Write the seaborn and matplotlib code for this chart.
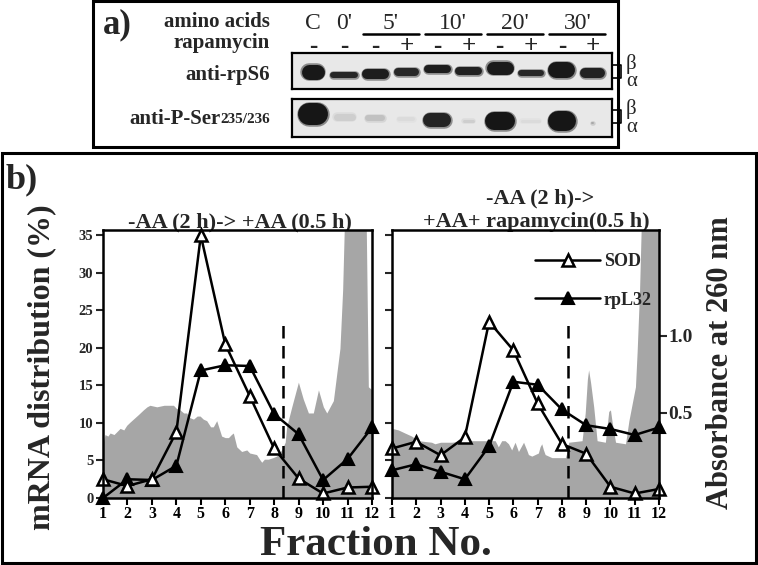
import matplotlib
matplotlib.use("Agg")
import matplotlib.pyplot as plt
import seaborn as sns
from matplotlib.patches import Rectangle

# --- panel a: western blot, 10 lanes ---
time_labels = ["C", "0'", "5'", "10'", "20'", "30'"]
time_lanes = [0, 1, 2.5, 4.5, 6.5, 8.5]
rapamycin = ["-", "-", "-", "+", "-", "+", "-", "+", "-", "+"]

# band centre (px below blot top), height (px), width (px), darkness (0-1)
rps6_center = [19, 22, 21, 19, 16, 18, 15, 20, 17, 20]
rps6_height = [15, 6, 10, 8, 8, 8, 13, 6, 16, 10]
rps6_width = [23, 28, 27, 25, 27, 27, 27, 26, 27, 25]
rps6_dark = [0.97, 0.9, 0.95, 0.9, 0.95, 0.93, 0.96, 0.9, 0.97, 0.93]

pser_center = [15, 18, 19, 20, 21, 22, 22, 22, 22, 24]
pser_height = [22, 7, 6, 4, 14, 3, 18, 3, 20, 2]
pser_width = [30, 22, 20, 18, 28, 12, 30, 20, 28, 3]
pser_dark = [0.98, 0.12, 0.18, 0.06, 0.92, 0.12, 0.98, 0.06, 0.98, 0.3]

# --- panel b: mRNA distribution (%) per fraction ---
fractions = list(range(1, 13))
sod_aa = [2.5, 1.6, 2.5, 8.8, 35.0, 20.5, 13.6, 6.6, 2.6, 0.6, 1.4, 1.5]
rpl32_aa = [0.0, 2.5, 2.4, 4.3, 17.0, 17.7, 17.6, 11.2, 8.5, 2.4, 5.2, 9.4]
sod_rap = [6.6, 7.5, 5.7, 8.1, 23.5, 19.7, 12.6, 7.2, 5.9, 1.5, 0.6, 1.2]
rpl32_rap = [3.7, 4.5, 3.5, 2.5, 6.9, 15.5, 15.1, 11.8, 9.7, 9.2, 8.4, 9.4]

# absorbance at 260 nm profiles (grey)
a260_aa_x = [1.00, 1.08, 1.20, 1.29, 1.45, 1.70, 1.85, 1.97, 2.10, 2.24, 2.45,
             2.65, 2.80, 2.92, 3.20, 3.50, 3.88, 4.00, 4.15, 4.30, 4.42, 4.55,
             4.70, 4.85, 4.97, 5.10, 5.24, 5.40, 5.51, 5.65, 5.75, 5.85, 6.00,
             6.13, 6.25, 6.33, 6.47, 6.67, 6.88, 7.00, 7.28, 7.40, 7.49, 7.60,
             7.76, 7.95, 8.10, 8.31, 8.45, 8.51, 8.72, 8.99, 9.19, 9.40, 9.60,
             9.81, 10.01, 10.15, 10.42, 10.69, 10.80, 10.90, 11.75, 11.85, 12.00]
a260_aa = [0.30, 0.36, 0.35, 0.37, 0.36, 0.40, 0.39, 0.42, 0.44, 0.46, 0.49,
           0.52, 0.54, 0.55, 0.54, 0.55, 0.55, 0.53, 0.52, 0.50, 0.50, 0.47,
           0.46, 0.48, 0.48, 0.46, 0.45, 0.41, 0.41, 0.45, 0.40, 0.35, 0.34,
           0.34, 0.36, 0.37, 0.28, 0.25, 0.26, 0.24, 0.23, 0.20, 0.18, 0.20,
           0.20, 0.21, 0.22, 0.26, 0.31, 0.41, 0.54, 0.70, 0.59, 0.50, 0.50,
           0.65, 0.54, 0.50, 0.58, 0.92, 1.30, 1.90, 1.90, 0.67, 0.65]
a260_rap_x = [1.00, 1.26, 1.53, 1.81, 2.08, 2.63, 2.77, 3.00, 3.46, 4.00, 4.50,
              4.97, 5.25, 5.38, 5.52, 5.66, 5.80, 5.93, 6.07, 6.21, 6.42, 6.55,
              6.62, 6.76, 7.03, 7.10, 7.17, 7.24, 7.31, 7.59, 8.14, 8.22, 8.28,
              8.83, 8.96, 9.05, 9.10, 9.18, 9.31, 9.45, 9.79, 9.93, 10.00, 10.07,
              10.21, 10.62, 10.76, 11.03, 11.10, 11.20, 11.30, 12.00]
a260_rap = [0.40, 0.39, 0.37, 0.35, 0.32, 0.31, 0.30, 0.31, 0.31, 0.32, 0.32,
            0.32, 0.32, 0.28, 0.32, 0.32, 0.30, 0.26, 0.31, 0.25, 0.31, 0.26,
            0.23, 0.22, 0.24, 0.28, 0.30, 0.26, 0.23, 0.21, 0.21, 0.25, 0.31,
            0.32, 0.50, 0.72, 0.78, 0.70, 0.54, 0.32, 0.31, 0.51, 0.52, 0.44,
            0.31, 0.30, 0.45, 0.67, 0.90, 1.30, 1.90, 1.90]
dash_aa, dash_rap, dash_top = 8.37, 8.26, 23.3

MRNA_MAX = 35.73
ABS_MIN, ABS_MAX = -0.052, 1.688

sns.set_theme(style="ticks")
plt.rcParams["font.family"] = ["Liberation Serif", "DejaVu Serif"]
plt.rcParams["font.weight"] = "bold"

W, H = 758, 565
fig = plt.figure(figsize=(W / 100, H / 100), dpi=100)


def px_axes(x0, y0, x1, y1, **kw):
    return fig.add_axes([x0 / W, 1 - y1 / H, (x1 - x0) / W, (y1 - y0) / H], **kw)


canvas = px_axes(0, 0, W, H, zorder=-5)
canvas.set_xlim(0, W)
canvas.set_ylim(H, 0)
canvas.axis("off")
canvas.add_patch(Rectangle((93, 1), 525, 146, fill=False, lw=2.2, ec="black"))
canvas.add_patch(Rectangle((2, 153), 754, 410, fill=False, lw=2.2, ec="black"))

# ---------- panel a ----------
LANE0, LANE_DX = 313, 31.1
BG = 0.91


def blot_axes(y0, y1):
    ax = px_axes(292, y0, 612, y1)
    ax.set_xlim((292 - LANE0) / LANE_DX, (612 - LANE0) / LANE_DX)
    ax.set_ylim(y1 - y0, 0)
    ax.set_facecolor(str(BG))
    ax.set_xticks([])
    ax.set_yticks([])
    for s in ax.spines.values():
        s.set_linewidth(1.6)
        s.set_color("black")
    return ax


def draw_bands(ax, centers, heights, widths, darkness):
    for lane, (c, h, w, d) in enumerate(zip(centers, heights, widths, darkness)):
        half = max(w - h, 1) / 2 / LANE_DX
        g = str(BG - d * 0.84)
        ax.plot([lane - half, lane + half], [c, c], lw=(h + 2.5) * 0.72, color=g,
                alpha=0.45, solid_capstyle="round")
        ax.plot([lane - half, lane + half], [c, c], lw=h * 0.72, color=g,
                solid_capstyle="round")


blot1 = blot_axes(53, 89)
blot2 = blot_axes(99, 137)
draw_bands(blot1, rps6_center, rps6_height, rps6_width, rps6_dark)
draw_bands(blot2, pser_center, pser_height, pser_width, pser_dark)

for lab, lane in zip(time_labels, time_lanes):
    blot1.text(lane, -24, lab, ha="center", va="baseline", fontsize=17,
               fontweight="normal", clip_on=False)
for lane in time_lanes[2:]:
    blot1.plot([lane - 0.9, lane + 0.9], [-19, -19], color="black", lw=1.8,
               clip_on=False)
for lane, sign in enumerate(rapamycin):
    blot1.text(lane, -7, sign, ha="center", va="center", fontsize=18,
               clip_on=False)

canvas.text(103, 33, "a)", fontsize=25, va="baseline")
canvas.text(270, 27, "amino acids", fontsize=15, ha="right", va="baseline")
canvas.text(270, 48, "rapamycin", fontsize=15, ha="right", va="baseline")
canvas.text(270, 80, "anti-rpS6", fontsize=15, ha="right", va="baseline")
t2 = canvas.text(270, 123, "235/236", fontsize=11, ha="right", va="baseline")
canvas.annotate("anti-P-Ser", xy=(0, 0.12), xycoords=t2, fontsize=15,
                ha="right", va="baseline")

for top, bot in [(65, 78), (110, 123)]:
    canvas.plot([612, 621, 621, 612], [top, top, bot, bot], color="black", lw=1.2)
    canvas.text(626, top - 1, "β", fontsize=15, fontweight="normal", va="center")
    canvas.text(626, bot + 4, "α", fontsize=15, fontweight="normal", va="center")

# ---------- panel b ----------
canvas.text(6, 188, "b)", fontsize=26, va="baseline")


def fraction_panel(ax, sod, rpl, gx, gy, dash_x, left_labels):
    ax2 = ax.twinx()
    ax2.fill_between(gx, ABS_MIN, gy, color="#a6a6a6", lw=0)
    ax2.set_ylim(ABS_MIN, ABS_MAX)
    for s in ax2.spines.values():
        s.set_visible(False)
    ax.set_zorder(ax2.get_zorder() + 1)
    ax.patch.set_visible(False)

    ax.plot([dash_x, dash_x], [0, dash_top], color="black", lw=1.8,
            ls=(0, (5, 3)))
    sns.lineplot(x=fractions, y=rpl, ax=ax, color="black", lw=1.8, marker="^",
                 markersize=9, markerfacecolor="black", markeredgecolor="black",
                 markeredgewidth=1.5, clip_on=False, label="rpL32")
    sns.lineplot(x=fractions, y=sod, ax=ax, color="black", lw=1.8, marker="^",
                 markersize=9, markerfacecolor="white", markeredgecolor="black",
                 markeredgewidth=1.8, clip_on=False, label="SOD")
    if ax.get_legend() is not None:
        ax.get_legend().remove()

    ax.set_xlim(1, 12)
    ax.set_ylim(0, MRNA_MAX)
    ax.set_xticks(fractions)
    ax.set_yticks([0, 5, 10, 15, 20, 25, 30, 35])
    ax.set_xlabel("")
    ax.set_ylabel("")
    ax.tick_params(axis="x", direction="out", length=5, width=1.5, labelsize=11.5,
                   pad=1, colors="black")
    ax.tick_params(axis="y", direction="out", length=5, width=1.5, labelsize=10.5,
                   pad=2, labelleft=left_labels)
    for s in ax.spines.values():
        s.set_visible(True)
        s.set_linewidth(1.8)
        s.set_color("black")
    return ax2


ax_l = px_axes(103, 230, 372, 498)
ax_r = px_axes(392, 230, 659, 498)
tw_l = fraction_panel(ax_l, sod_aa, rpl32_aa, a260_aa_x, a260_aa, dash_aa, True)
tw_r = fraction_panel(ax_r, sod_rap, rpl32_rap, a260_rap_x, a260_rap, dash_rap, False)
tw_l.set_yticks([])
tw_r.set_yticks([0.5, 1.0])
tw_r.set_yticklabels(["0.5", "1.0"])
tw_r.tick_params(axis="y", direction="out", length=6, width=1.5, labelsize=14,
                 pad=1)

handles, labels = ax_r.get_legend_handles_labels()
order = [labels.index("SOD"), labels.index("rpL32")]
ax_r.legend([handles[i] for i in order], [labels[i] for i in order],
            loc="upper left", bbox_to_anchor=(535 / W, 1 - 253 / H),
            bbox_transform=fig.transFigure, frameon=False, fontsize=13,
            handlelength=3.6, handletextpad=0.2, labelspacing=1.2,
            borderpad=0, borderaxespad=0)

canvas.text(240, 227, "-AA (2 h)-> +AA (0.5 h)", fontsize=16, ha="center",
            va="baseline")
canvas.text(540, 203, "-AA (2 h)->", fontsize=16, ha="center", va="baseline")
canvas.text(536, 227, "+AA+ rapamycin(0.5 h)", fontsize=16, ha="center",
            va="baseline")

canvas.text(42, 367, "mRNA distribution (%)", rotation=90, ha="center",
            va="center", fontsize=23)
canvas.text(721, 363, "Absorbance at 260 nm", rotation=90, ha="center",
            va="center", fontsize=22)
canvas.text(376, 555, "Fraction No.", ha="center", va="baseline", fontsize=31)

fig.savefig("out.png", dpi=100)
